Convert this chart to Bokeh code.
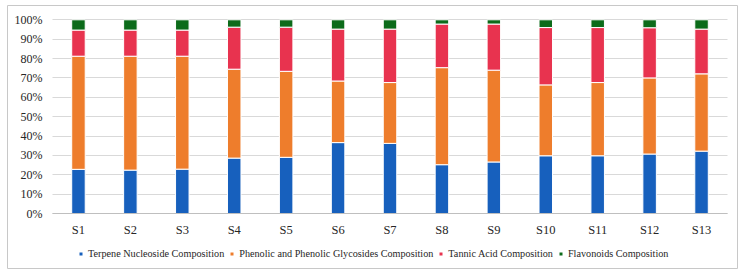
from bokeh.plotting import figure
from bokeh.models import (Range1d, FixedTicker, NumeralTickFormatter, Legend,
                          LegendItem)
from bokeh.embed import file_html
from bokeh.resources import INLINE

# Sample groups
samples = ["S1", "S2", "S3", "S4", "S5", "S6", "S7",
           "S8", "S9", "S10", "S11", "S12", "S13"]

# Composition shares per sample (%)
terpene = [22.8, 22.4, 22.9, 28.6, 29.0, 36.6, 36.2, 25.2, 26.6, 29.8, 29.8, 30.7, 32.2]
phenolic = [58.4, 58.8, 58.3, 45.9, 44.4, 31.8, 31.4, 50.1, 47.4, 36.6, 37.8, 39.3, 39.9]
tannic = [13.5, 13.5, 13.5, 21.7, 22.8, 26.8, 27.6, 22.5, 23.8, 29.6, 28.4, 25.9, 23.1]
flavonoids = [5.3, 5.3, 5.3, 3.8, 3.8, 4.8, 4.8, 2.2, 2.2, 4.0, 4.0, 4.1, 4.8]

y_ticks = [i / 10 for i in range(11)]

series_names = ["Terpene Nucleoside Composition",
                "Phenolic and Phenolic Glycosides Composition",
                "Tannic Acid Composition",
                "Flavonoids Composition"]
colors = ["#1760bd", "#ee7d2c", "#e8334f", "#0c6b1a"]

keys = ["terpene", "phenolic", "tannic", "flavonoids"]
positions = list(range(1, len(samples) + 1))
data = {"x": positions}
for k, vals in zip(keys, [terpene, phenolic, tannic, flavonoids]):
    data[k] = [v / 100.0 for v in vals]

FONT = "Liberation Serif"
TEXT_COLOR = "#262626"

# The frame is the bordered chart box; the value area sits inside it,
# spanning categories 0.5..13.5 horizontally and 0..1 vertically.
W, H = 745, 276
BOX_L, BOX_R, BOX_T, BOX_B = 7, 737, 5, 268
AREA_L, AREA_R, AREA_T, AREA_B = 52, 727, 19.3, 213

band = (AREA_R - AREA_L) / len(samples)
x_start = 0.5 - (AREA_L - BOX_L) / band
x_end = len(samples) + 0.5 + (BOX_R - AREA_R) / band
unit = AREA_B - AREA_T
y_start = -(BOX_B - AREA_B) / unit
y_end = 1 + (AREA_T - BOX_T) / unit

p = figure(x_range=Range1d(x_start, x_end), y_range=Range1d(y_start, y_end),
           width=W, height=H, output_backend="svg", toolbar_location=None,
           min_border_left=BOX_L, min_border_right=W - BOX_R,
           min_border_top=BOX_T, min_border_bottom=H - BOX_B)
p.outline_line_color = "#c8c8c8"
p.outline_line_width = 1
p.background_fill_color = "white"
p.border_fill_color = "white"

renderers = p.vbar_stack(keys, x="x", width=0.26, source=data,
                         color=colors, line_color="white", line_width=1)

# Axes pinned inside the bordered box
p.yaxis.fixed_location = 0.5
p.yaxis.bounds = (0, 1)
p.yaxis.ticker = FixedTicker(ticks=y_ticks)
p.yaxis.formatter = NumeralTickFormatter(format="0%")
p.yaxis.axis_line_color = None
p.yaxis.major_tick_line_color = None
p.yaxis.minor_tick_line_color = None
p.yaxis.major_label_standoff = 4
p.yaxis.major_label_text_font = FONT
p.yaxis.major_label_text_font_size = "12px"
p.yaxis.major_label_text_color = TEXT_COLOR

p.xaxis.fixed_location = 0
p.xaxis.bounds = (0.5, len(samples) + 0.5)
p.xaxis.ticker = FixedTicker(ticks=positions)
p.xaxis.major_label_overrides = {x: s for x, s in zip(positions, samples)}
p.xaxis.axis_line_color = "#bfbfbf"
p.xaxis.major_tick_line_color = None
p.xaxis.minor_tick_line_color = None
p.xaxis.major_label_standoff = 3
p.xaxis.major_label_text_font = FONT
p.xaxis.major_label_text_font_size = "12.5px"
p.xaxis.major_label_text_color = TEXT_COLOR

p.xgrid.grid_line_color = None
p.ygrid.grid_line_color = "#d9d9d9"
p.ygrid.bounds = (0, 1)
p.ygrid.cross_bounds = (0.5, len(samples) + 0.5)

# Legend beneath the category labels
legend = Legend(items=[LegendItem(label=n, renderers=[r])
                       for n, r in zip(series_names, renderers)],
                orientation="horizontal", location=(71, 9),
                glyph_width=5, glyph_height=5, spacing=5, padding=0,
                label_standoff=5, label_text_font=FONT,
                label_text_font_size="10.2px", label_text_color=TEXT_COLOR,
                border_line_color=None, background_fill_alpha=0)
p.add_layout(legend, "center")

open("out.html", "w").write(file_html(p, INLINE))
